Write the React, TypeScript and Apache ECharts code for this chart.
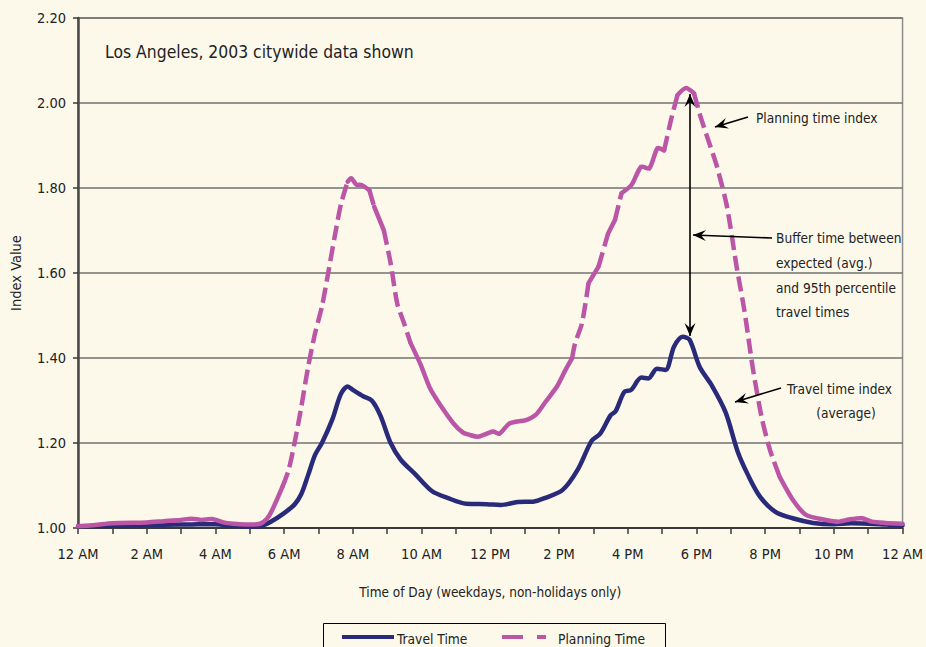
import React, { useEffect, useRef } from "react";
import * as echarts from "echarts";

// ---------- data ----------
const travelHours = [0, 1, 2, 3, 3.5, 4, 4.5, 5, 5.3, 5.6, 6.0, 6.3, 6.5, 6.7, 6.9, 7.1, 7.4, 7.65, 7.85, 8.0, 8.3, 8.55, 8.8, 9.1, 9.4, 9.8, 10.3, 10.75, 11.3, 11.9, 12.3, 12.8, 13.25, 13.6, 14.1, 14.55, 14.95, 15.2, 15.5, 15.65, 15.9, 16.1, 16.4, 16.6, 16.85, 17.1, 17.35, 17.6, 17.8, 18.1, 18.45, 18.85, 19.2, 19.5, 19.85, 20.3, 20.8, 21.4, 22.0, 22.5, 23.0, 23.5, 24];
const travelValues = [1.004, 1.005, 1.007, 1.008, 1.009, 1.009, 1.005, 1.003, 1.004, 1.014, 1.035, 1.055, 1.08, 1.125, 1.172, 1.2, 1.255, 1.315, 1.333, 1.325, 1.31, 1.3, 1.265, 1.2, 1.16, 1.128, 1.087, 1.071, 1.057, 1.056, 1.054, 1.061, 1.062, 1.071, 1.089, 1.138, 1.205, 1.222, 1.265, 1.275, 1.32, 1.325, 1.354, 1.352, 1.375, 1.372, 1.427, 1.45, 1.443, 1.378, 1.335, 1.272, 1.18, 1.125, 1.074, 1.038, 1.023, 1.012, 1.009, 1.011, 1.01, 1.008, 1.006];

const planHours = [0, 0.5, 1, 2, 2.5, 3, 3.3, 3.6, 3.9, 4.3, 4.7, 5.0, 5.3, 5.5, 5.65, 5.95, 6.13, 6.32, 6.5, 6.7, 6.9, 7.1, 7.28, 7.47, 7.66, 7.85, 7.95, 8.1, 8.25, 8.48, 8.62, 8.9, 9.1, 9.29, 9.49, 9.68, 9.97, 10.25, 10.54, 10.93, 11.2, 11.4, 11.65, 12.08, 12.27, 12.56, 13.04, 13.32, 13.61, 13.95, 14.19, 14.38, 14.47, 14.67, 14.86, 15.15, 15.43, 15.63, 15.82, 16.11, 16.39, 16.63, 16.87, 17.06, 17.26, 17.45, 17.69, 17.93, 18.12, 18.41, 18.6, 18.89, 19.17, 19.4, 19.65, 19.9, 20.14, 20.42, 20.81, 21.19, 21.77, 22.15, 22.44, 22.82, 23.11, 23.5, 24];
const planValues = [1.004, 1.007, 1.011, 1.013, 1.016, 1.019, 1.022, 1.019, 1.021, 1.012, 1.009, 1.008, 1.01, 1.022, 1.042, 1.097, 1.136, 1.207, 1.285, 1.38, 1.458, 1.521, 1.599, 1.685, 1.764, 1.815, 1.823, 1.808, 1.807, 1.795, 1.756, 1.701, 1.623, 1.529, 1.482, 1.435, 1.385, 1.328, 1.29, 1.246, 1.225, 1.219, 1.215, 1.227, 1.222, 1.246, 1.254, 1.266, 1.297, 1.334, 1.372, 1.399, 1.435, 1.482, 1.576, 1.615, 1.693, 1.725, 1.788, 1.807, 1.85, 1.846, 1.894, 1.888, 1.96, 2.019, 2.035, 2.023, 1.968, 1.897, 1.85, 1.756, 1.615, 1.51, 1.372, 1.26, 1.184, 1.121, 1.066, 1.031, 1.019, 1.015, 1.02, 1.023, 1.015, 1.012, 1.01];

const xTickLabels = ["12 AM", "2 AM", "4 AM", "6 AM", "8 AM", "10 AM", "12 PM", "2 PM", "4 PM", "6 PM", "8 PM", "10 PM", "12 AM"];
const yTickLabels = ["1.00", "1.20", "1.40", "1.60", "1.80", "2.00", "2.20"];

const seriesNames = ["Travel Time", "Planning Time"];
const chartNote = "Los Angeles, 2003 citywide data shown";
const xAxisTitle = "Time of Day (weekdays, non-holidays only)";
const yAxisTitle = "Index Value";
const noteLines = {
  planning: ["Planning time index"],
  buffer: ["Buffer time between", "expected (avg.)", "and 95th percentile", "travel times"],
  travel: ["Travel time index", "(average)"],
};

// ---------- style ----------
const FONT = "'Liberation Sans Narrow', 'DejaVu Sans Condensed', 'Arial Narrow', sans-serif";
const BG = "#fcf9eb";
const NAVY = "#2a2a7a";
const PINK = "#bb55a6";
const TEXT = "#222222";
const NOTE_SIZE = 13.6;

function arrowHead(tx: number, ty: number, fx: number, fy: number) {
  const dx = tx - fx;
  const dy = ty - fy;
  const len = Math.sqrt(dx * dx + dy * dy) || 1;
  const ux = dx / len;
  const uy = dy / len;
  const nx = -uy;
  const ny = ux;
  const L = 13;
  const W = 5.5;
  const N = 8;
  return {
    type: "polygon",
    shape: {
      points: [
        [tx, ty],
        [tx - L * ux + W * nx, ty - L * uy + W * ny],
        [tx - N * ux, ty - N * uy],
        [tx - L * ux - W * nx, ty - L * uy - W * ny],
      ],
    },
    style: { fill: "#000" },
    z: 50,
  };
}

function arrow(fx: number, fy: number, tx: number, ty: number, both = false) {
  const els: any[] = [
    {
      type: "line",
      shape: { x1: fx, y1: fy, x2: tx, y2: ty },
      style: { stroke: "#000", lineWidth: 1.6 },
      z: 50,
    },
    arrowHead(tx, ty, fx, fy),
  ];
  if (both) els.push(arrowHead(fx, fy, tx, ty));
  return els;
}

function textEl(t: string, x: number, y: number, size = NOTE_SIZE, align = "left") {
  return {
    type: "text",
    x,
    y,
    style: { text: t, fill: TEXT, font: `${size}px ${FONT}`, align, verticalAlign: "middle" },
    z: 50,
  };
}

export default function App() {
  const ref = useRef<HTMLDivElement>(null);

  useEffect(() => {
    if (!ref.current) return;
    const chart = echarts.init(ref.current, null, { renderer: "svg" });

    const planData = planHours.map((h, i) => [h, planValues[i]]);
    const travelData = travelHours.map((h, i) => [h, travelValues[i]]);

    const renderPlanning = (params: any, api: any) => {
      if (params.dataIndex !== 0) return null;
      const pts = planData.map((d) => api.coord(d));
      const runs: { dashed: boolean; points: number[][] }[] = [];
      for (let i = 0; i < pts.length - 1; i++) {
        const dx = Math.abs(pts[i + 1][0] - pts[i][0]);
        const dy = Math.abs(pts[i + 1][1] - pts[i][1]);
        const dashed = dy / Math.max(dx, 0.01) > 2.6;
        const last = runs[runs.length - 1];
        if (last && last.dashed === dashed) {
          last.points.push(pts[i + 1]);
        } else {
          runs.push({ dashed, points: [pts[i], pts[i + 1]] });
        }
      }
      return {
        type: "group",
        children: runs.map((r) => ({
          type: "polyline",
          shape: { points: r.points, smooth: 0.25 },
          style: {
            stroke: PINK,
            fill: "none",
            lineWidth: 4.5,
            lineDash: r.dashed ? [15, 6] : null,
            lineCap: r.dashed ? "butt" : "round",
            lineJoin: "round",
          },
        })),
      };
    };

    const graphics: any[] = [
      textEl(chartNote, 105, 52, 17.4),
      // annotations
      ...arrow(748, 117, 715, 127),
      textEl(noteLines.planning[0], 756, 118),
      ...arrow(690, 94, 690, 336, true),
      ...arrow(772, 238, 693, 235),
      textEl(noteLines.buffer[0], 776, 238),
      textEl(noteLines.buffer[1], 776, 263),
      textEl(noteLines.buffer[2], 776, 288),
      textEl(noteLines.buffer[3], 776, 312),
      ...arrow(781, 388, 735, 402),
      textEl(noteLines.travel[0], 787, 389),
      textEl(noteLines.travel[1], 846, 413, NOTE_SIZE, "center"),
      // legend
      {
        type: "rect",
        shape: { x: 323.5, y: 623.5, width: 342, height: 40 },
        style: { fill: "none", stroke: "#000", lineWidth: 1 },
        z: 40,
      },
      {
        type: "line",
        shape: { x1: 342, y1: 637, x2: 394, y2: 637 },
        style: { stroke: NAVY, lineWidth: 4 },
        z: 41,
      },
      textEl(seriesNames[0], 397, 639, 13.7),
      { type: "rect", shape: { x: 502, y: 635, width: 21, height: 4 }, style: { fill: PINK }, z: 41 },
      { type: "rect", shape: { x: 537, y: 635, width: 9, height: 4 }, style: { fill: PINK }, z: 41 },
      textEl(seriesNames[1], 558, 639, 13.7),
    ];

    chart.setOption({
      animation: false,
      backgroundColor: BG,
      textStyle: { fontFamily: FONT },
      grid: {
        left: 77,
        top: 18,
        right: 15,
        bottom: 119,
        show: true,
        borderColor: "#8c8c8c",
        borderWidth: 1.5,
        backgroundColor: "transparent",
      },
      xAxis: {
        type: "value",
        min: 0,
        max: 24,
        interval: 1,
        name: xAxisTitle,
        nameLocation: "middle",
        nameGap: 57,
        nameTextStyle: { fontFamily: FONT, fontSize: 13.5, color: TEXT },
        axisLine: { show: true, onZero: false, lineStyle: { color: "#3a3a3a", width: 2 } },
        axisTick: { show: true, length: 6, lineStyle: { color: "#3a3a3a", width: 1.5 } },
        axisLabel: {
          margin: 18,
          fontFamily: FONT,
          fontSize: 14.5,
          color: TEXT,
          formatter: (v: number) => (Math.round(v) % 2 === 0 ? xTickLabels[Math.round(v) / 2] : ""),
        },
        splitLine: { show: false },
      },
      yAxis: {
        type: "value",
        min: 1,
        max: 2.2,
        interval: 0.2,
        name: yAxisTitle,
        nameLocation: "middle",
        nameGap: 55,
        nameRotate: 90,
        nameTextStyle: { fontFamily: FONT, fontSize: 14.5, color: TEXT },
        axisLine: { show: true, lineStyle: { color: "#4a4a4a", width: 2.5 } },
        axisTick: { show: true, length: 5, lineStyle: { color: "#3a3a3a", width: 1.5 } },
        axisLabel: {
          margin: 12,
          fontFamily: FONT,
          fontSize: 14.5,
          color: TEXT,
          formatter: (v: number) => yTickLabels[Math.round((v - 1) / 0.2)] ?? "",
        },
        splitLine: { show: true, lineStyle: { color: "#707070", width: 1.6 } },
      },
      series: [
        {
          type: "line",
          name: seriesNames[0],
          data: travelData,
          showSymbol: false,
          smooth: 0.3,
          lineStyle: { color: NAVY, width: 4.5, cap: "round", join: "round" },
          itemStyle: { color: NAVY },
          z: 3,
        },
        {
          type: "custom",
          name: seriesNames[1],
          data: planData,
          encode: { x: 0, y: 1 },
          renderItem: renderPlanning,
          itemStyle: { color: PINK },
          z: 4,
        },
      ],
      graphic: graphics,
    });

    return () => chart.dispose();
  }, []);

  return <div ref={ref} style={{ position: "fixed", left: 0, top: 0, width: 926, height: 647 }} />;
}
